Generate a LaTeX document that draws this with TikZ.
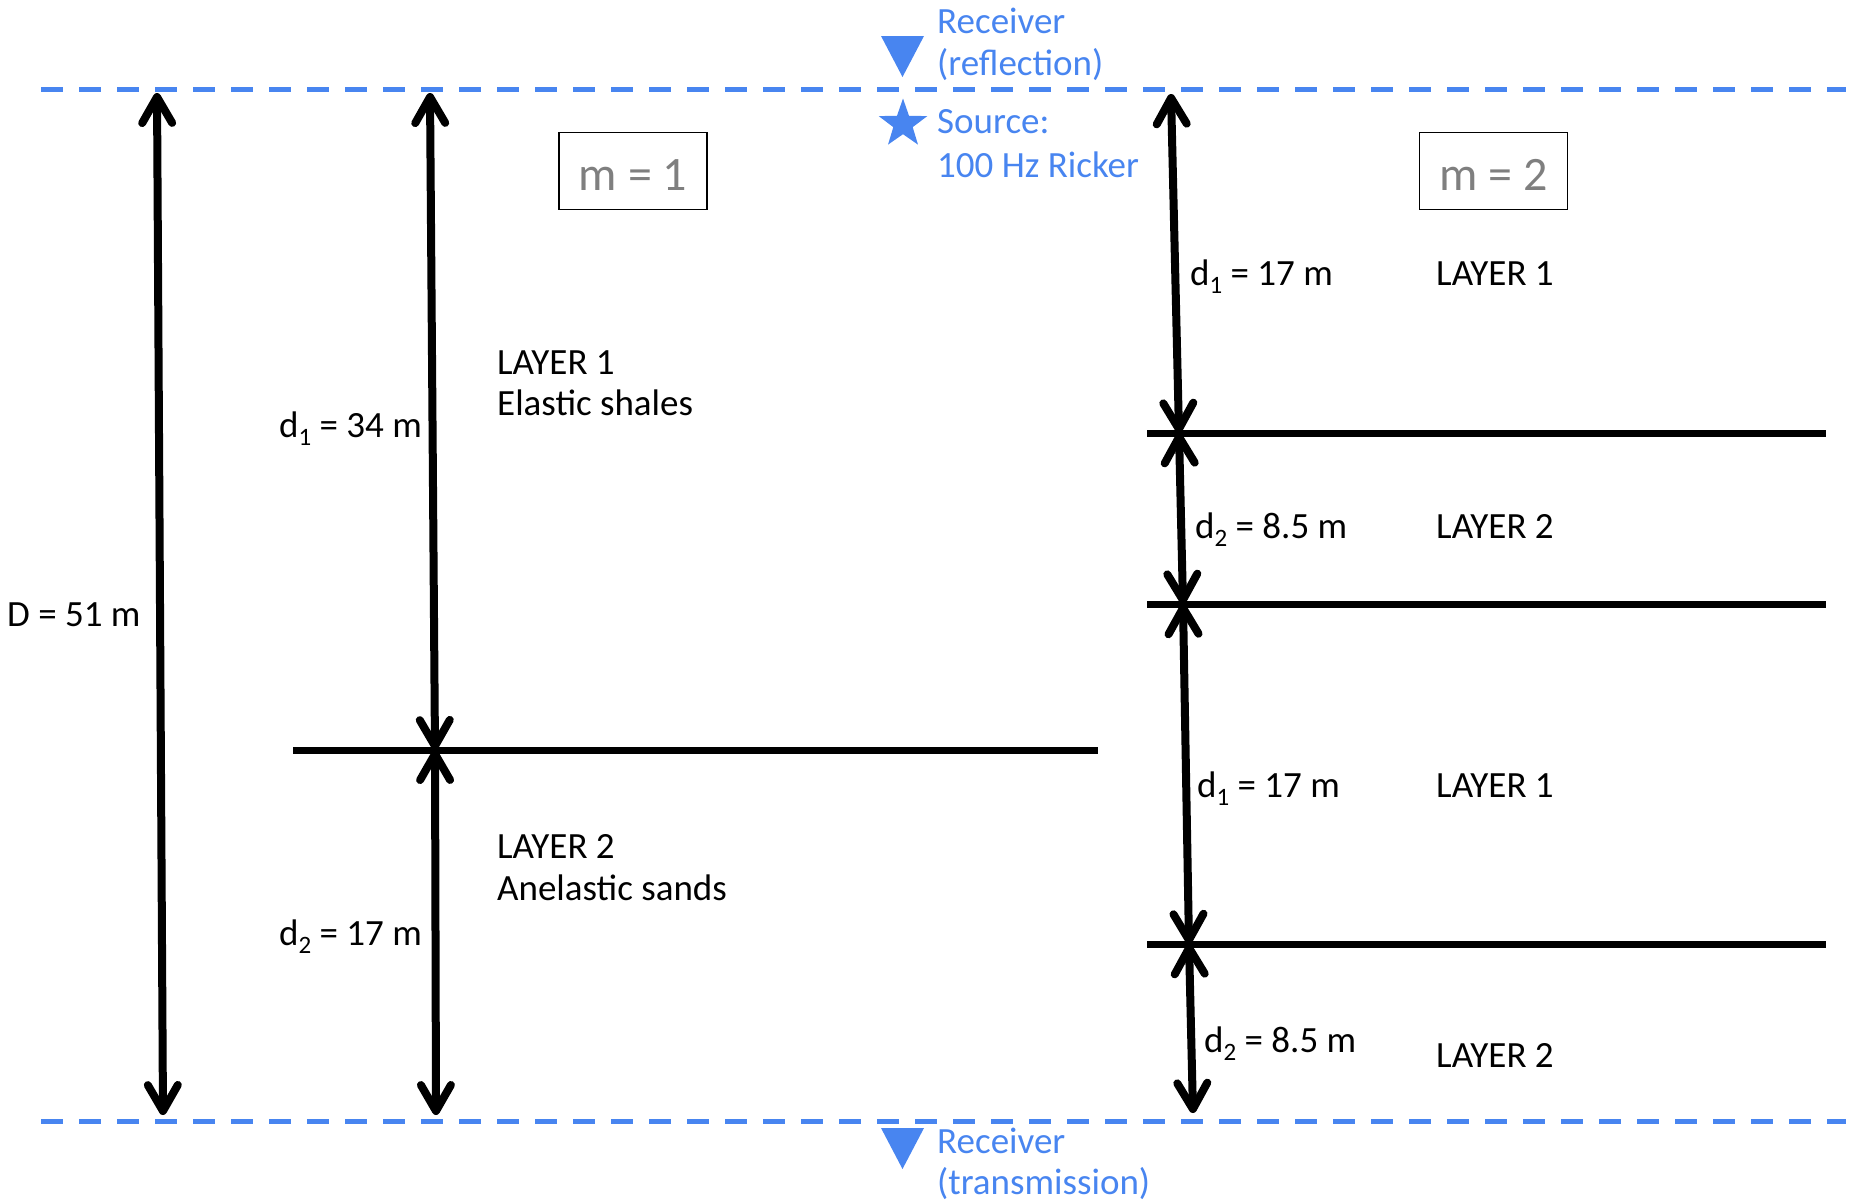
\documentclass[tikz,border=0pt]{standalone}
\usepackage{fontspec}
\setmainfont{Carlito}
\usetikzlibrary{arrows.meta,shapes.geometric}
\definecolor{rblue}{RGB}{72,133,240}
\definecolor{mgray}{RGB}{127,127,127}
\newcommand\lsub[1]{\raisebox{-8pt}{\fontsize{25}{25}\selectfont #1}}
\begin{document}
\begin{tikzpicture}[x=1pt,y=-1pt,
  txt/.style={anchor=base west,inner sep=0pt,font=\fontsize{37}{37}\selectfont},
  btxt/.style={txt,text=rblue},
  dim/.style={line width=8pt,line cap=round,{Straight Barb[length=26pt,width=30pt,round]}-{Straight Barb[length=26pt,width=30pt,round]}},
  layerline/.style={line width=7pt},
  surf/.style={rblue,line width=5pt,dash pattern=on 22pt off 16pt},
  mbox/.style={draw,line width=1.5pt,minimum width=148pt,minimum height=77pt,inner sep=0pt,text height=38pt,text depth=0pt,text=mgray,font=\fontsize{48}{48}\selectfont},
  rcv/.style={fill=rblue}]
\useasboundingbox (0,0) rectangle (1850,1202);
% surfaces
\coordinate (tl) at (41,89); \coordinate (tr) at (1846,89);
\coordinate (bl) at (41,1121); \coordinate (br) at (1846,1121);
\draw[surf] (tl) -- (tr);
\draw[surf] (bl) -- (br);
% layer boundaries
\coordinate (h1a) at (293,750); \coordinate (h1b) at (1098,750);
\coordinate (h2a) at (1147,433); \coordinate (h2b) at (1826,433);
\coordinate (h3a) at (1147,604); \coordinate (h3b) at (1826,604);
\coordinate (h4a) at (1147,944); \coordinate (h4b) at (1826,944);
\draw[layerline] (h1a) -- (h1b);
\draw[layerline] (h2a) -- (h2b);
\draw[layerline] (h3a) -- (h3b);
\draw[layerline] (h4a) -- (h4b);
% arrows
\coordinate (Dt) at (157,93); \coordinate (Db) at (163,1115);
\coordinate (Lt) at (430,93); \coordinate (Lm) at (435,750); \coordinate (Lb) at (436,1115);
\coordinate (R0) at (1171,94); \coordinate (R1) at (1179,433); \coordinate (R2) at (1183,604);
\coordinate (R3) at (1189,944); \coordinate (R4) at (1193,1113);
\draw[dim] (Dt) -- (Db);
\draw[dim] (Lt) -- (Lm);
\draw[dim] (Lm) -- (Lb);
\draw[dim] (R0) -- (R1);
\draw[dim] (R1) -- (R2);
\draw[dim] (R2) -- (R3);
\draw[dim] (R3) -- (R4);
% boxes
\node[mbox] (m1) at (633,171) {m = 1};
\node[mbox] (m2) at (1493.5,171) {m = 2};
% labels left
\node[txt] (D) at (7,626) {D = 51 m};
\node[txt] (d1l) at (279,437) {d\lsub{1} = 34 m};
\node[txt] (d2l) at (279,945) {d\lsub{2} = 17 m};
\node[txt] (L1a) at (497,374) {LAYER 1};
\node[txt] (L1b) at (497,415) {Elastic shales};
\node[txt] (L2a) at (497,858) {LAYER 2};
\node[txt] (L2b) at (497,900) {Anelastic sands};
% labels right
\node[txt] (rd1a) at (1190,285) {d\lsub{1} = 17 m};
\node[txt] (rd2a) at (1195,538) {d\lsub{2} = 8.5 m};
\node[txt] (rd1b) at (1197,797) {d\lsub{1} = 17 m};
\node[txt] (rd2b) at (1204,1052) {d\lsub{2} = 8.5 m};
\node[txt] (rL1a) at (1436,285) {LAYER 1};
\node[txt] (rL2a) at (1436,538) {LAYER 2};
\node[txt] (rL1b) at (1436,797) {LAYER 1};
\node[txt] (rL2b) at (1436,1067) {LAYER 2};
% receivers and source
\fill[rcv] (881,36) -- (924,36) -- (902.5,77) -- cycle;
\fill[rcv] (881,1128) -- (924,1128) -- (902.5,1169) -- cycle;
\node[star,star points=5,star point ratio=2.5,fill=rblue,minimum size=51pt,inner sep=0pt] (src) at (903,124) {};
\node[btxt] (rr1) at (937,33) {Receiver};
\node[btxt] (rr2) at (937,75) {(reflection)};
\node[btxt] (s1) at (937,133) {Source:};
\node[btxt] (s2) at (937,177) {100 Hz Ricker};
\node[btxt] (rt1) at (937,1153) {Receiver};
\node[btxt] (rt2) at (937,1194) {(transmission)};
\end{tikzpicture}
\end{document}
